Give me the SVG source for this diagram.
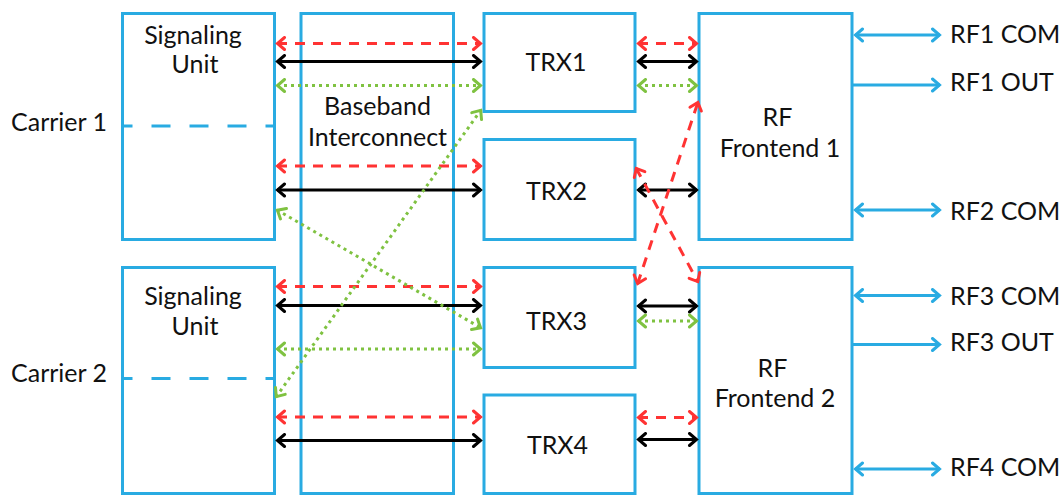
<svg xmlns="http://www.w3.org/2000/svg" width="1064" height="497" viewBox="0 0 1064 497">
<defs>
<style>
.box{fill:#fff;stroke:#29abe2;stroke-width:3}
.cdash{stroke:#29abe2;stroke-width:3;stroke-dasharray:19 19;stroke-dashoffset:9;fill:none}
text{font-family:Lato,"Open Sans","Liberation Sans",sans-serif;font-size:25px;fill:#111}
.m{text-anchor:middle}
.red{stroke:#f33;stroke-width:3;stroke-dasharray:10 8;fill:none;marker-start:url(#ar);marker-end:url(#ar)}
.blk{stroke:#000;stroke-width:3;fill:none;marker-start:url(#ak);marker-end:url(#ak)}
.grn{stroke:#7fc241;stroke-width:3;stroke-dasharray:3 4;fill:none;marker-start:url(#ag);marker-end:url(#ag)}
.blu{stroke:#29abe2;stroke-width:3;fill:none;marker-start:url(#ab);marker-end:url(#ab)}
.blu1{stroke:#29abe2;stroke-width:3;fill:none;marker-end:url(#ab)}
</style>
<marker id="ar" markerUnits="userSpaceOnUse" viewBox="-12 -8 14 16" refX="0" refY="0" markerWidth="14" markerHeight="16" orient="auto-start-reverse"><path d="M-7.5,-6 L-0.5,0 L-7.5,6" fill="none" stroke="#f33" stroke-width="3" stroke-linecap="round"/></marker>
<marker id="ak" markerUnits="userSpaceOnUse" viewBox="-12 -8 14 16" refX="0" refY="0" markerWidth="14" markerHeight="16" orient="auto-start-reverse"><path d="M-7.5,-6 L-0.5,0 L-7.5,6" fill="none" stroke="#000" stroke-width="3" stroke-linecap="round"/></marker>
<marker id="ag" markerUnits="userSpaceOnUse" viewBox="-12 -8 14 16" refX="0" refY="0" markerWidth="14" markerHeight="16" orient="auto-start-reverse"><path d="M-7.5,-6 L-0.5,0 L-7.5,6" fill="none" stroke="#7fc241" stroke-width="3" stroke-linecap="round"/></marker>
<marker id="ab" markerUnits="userSpaceOnUse" viewBox="-12 -8 14 16" refX="0" refY="0" markerWidth="14" markerHeight="16" orient="auto-start-reverse"><path d="M-7.5,-6 L-0.5,0 L-7.5,6" fill="none" stroke="#29abe2" stroke-width="3" stroke-linecap="round"/></marker>
</defs>
<rect width="1064" height="497" fill="#fff"/>

<g id="carrier1-label"><text x="11" y="131">Carrier 1</text></g>
<g id="carrier2-label"><text x="11" y="382">Carrier 2</text></g>

<g id="signaling-unit-1">
<rect class="box" x="122.5" y="13.5" width="152" height="226"/>
<line class="cdash" x1="122.5" y1="126" x2="274.5" y2="126"/>
<text class="m" x="193" y="44">Signaling</text>
<text class="m" x="195" y="73">Unit</text>
</g>
<g id="signaling-unit-2">
<rect class="box" x="122.5" y="267.5" width="152" height="226"/>
<line class="cdash" x1="122.5" y1="378.5" x2="274.5" y2="378.5"/>
<text class="m" x="193" y="305">Signaling</text>
<text class="m" x="195" y="335">Unit</text>
</g>
<g id="baseband-interconnect">
<rect class="box" x="301" y="13.5" width="152.5" height="480"/>
<text class="m" x="377.5" y="115">Baseband</text>
<text class="m" x="377.5" y="146">Interconnect</text>
</g>
<g id="trx1"><rect class="box" x="484" y="13.5" width="151" height="98"/><text class="m" x="556" y="71">TRX1</text></g>
<g id="trx2"><rect class="box" x="484" y="139.5" width="151" height="100"/><text class="m" x="556.5" y="200">TRX2</text></g>
<g id="trx3"><rect class="box" x="484" y="267.5" width="151" height="100"/><text class="m" x="556.5" y="330">TRX3</text></g>
<g id="trx4"><rect class="box" x="484" y="395" width="151" height="98.5"/><text class="m" x="557.5" y="454">TRX4</text></g>
<g id="rf-frontend-1">
<rect class="box" x="699" y="13.5" width="153" height="226"/>
<text class="m" x="777.5" y="126">RF</text>
<text class="m" x="780" y="157">Frontend 1</text>
</g>
<g id="rf-frontend-2">
<rect class="box" x="699" y="267.5" width="153" height="226"/>
<text class="m" x="772.5" y="376.5">RF</text>
<text class="m" x="775" y="406.5">Frontend 2</text>
</g>
<g id="rf-port-labels">
<text x="950" y="43">RF1 COM</text>
<text x="950" y="91">RF1 OUT</text>
<text x="950" y="220">RF2 COM</text>
<text x="950" y="304.5">RF3 COM</text>
<text x="950" y="350.5">RF3 OUT</text>
<text x="950" y="475.5">RF4 COM</text>
</g>

<g id="connectors">
<line class="red" x1="277" y1="43.5" x2="481" y2="43.5"/>
<line class="blk" x1="277" y1="61.5" x2="481" y2="61.5"/>
<line class="grn" x1="277" y1="85.5" x2="481" y2="85.5"/>
<line class="red" x1="277" y1="166" x2="481" y2="166"/>
<line class="blk" x1="277" y1="190" x2="481" y2="190"/>
<line class="red" x1="277" y1="286.5" x2="481" y2="286.5"/>
<line class="blk" x1="277" y1="305.5" x2="481" y2="305.5"/>
<line class="grn" x1="277" y1="349" x2="481" y2="349"/>
<line class="red" x1="277" y1="417" x2="481" y2="417"/>
<line class="blk" x1="277" y1="440.5" x2="481" y2="440.5"/>
<line class="grn" x1="277" y1="210" x2="481" y2="328"/>
<line class="grn" x1="276" y1="397" x2="481" y2="110"/>

<line class="red" x1="638" y1="43.5" x2="697" y2="43.5"/>
<line class="blk" x1="638" y1="61.5" x2="697" y2="61.5"/>
<line class="grn" x1="638" y1="85.5" x2="697" y2="85.5"/>
<line class="blk" x1="638" y1="190" x2="697" y2="190"/>
<line class="blk" x1="638" y1="306" x2="697" y2="306"/>
<line class="grn" x1="638" y1="321" x2="697" y2="321"/>
<line class="red" x1="638" y1="417.5" x2="697" y2="417.5"/>
<line class="blk" x1="638" y1="439.5" x2="697" y2="439.5"/>
<line class="red" x1="637.5" y1="284" x2="698" y2="102"/>
<line class="red" x1="636" y1="168" x2="698" y2="282"/>

<line class="blu" x1="855" y1="35" x2="940" y2="35"/>
<line class="blu1" x1="853" y1="85" x2="940" y2="85"/>
<line class="blu" x1="855" y1="210" x2="940" y2="210"/>
<line class="blu" x1="855" y1="295.5" x2="940" y2="295.5"/>
<line class="blu1" x1="853" y1="344.5" x2="940" y2="344.5"/>
<line class="blu" x1="855" y1="469" x2="940" y2="469"/>
</g>
</svg>
